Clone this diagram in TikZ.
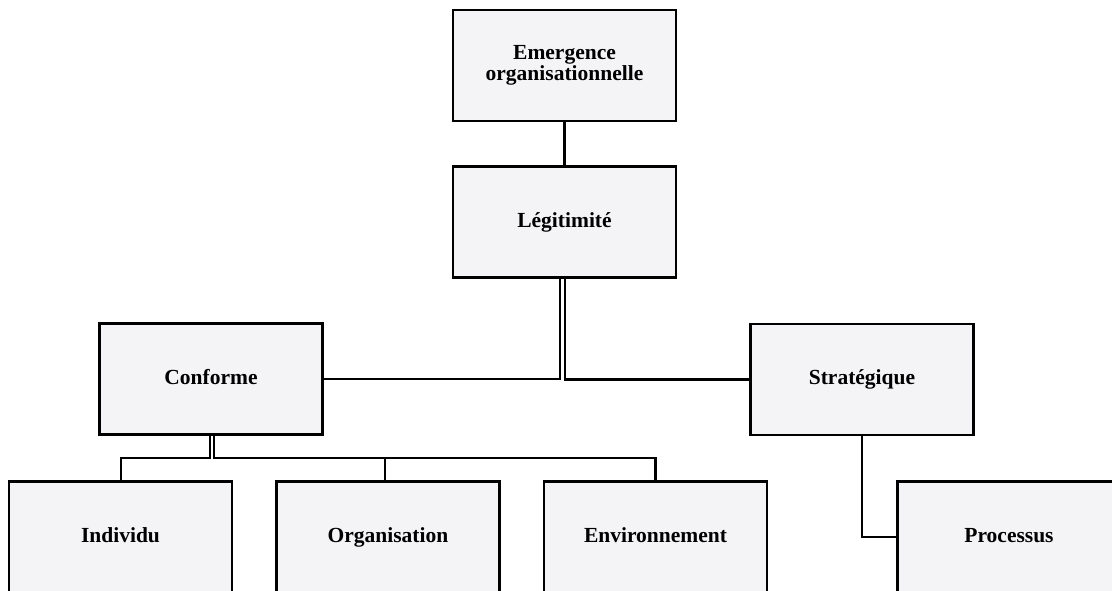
\documentclass[tikz,border=0pt]{standalone}
\usepackage{fontspec}
\setmainfont{Liberation Serif}
\definecolor{boxfill}{RGB}{244,243,246}
\begin{document}
\begin{tikzpicture}[x=1pt,y=-1pt,
  box/.style={draw=black,line width=2.6pt,fill=boxfill,minimum width=223pt,minimum height=111pt,
    inner sep=0pt,align=center,font=\fontsize{21.5}{21.5}\selectfont\bfseries},
  onebox/.style={box,text height=14.5pt,text depth=4.5pt},
  link/.style={draw=black,line width=2.2pt}]
\useasboundingbox (0,0) rectangle (1112,590);
\clip (0,0) rectangle (1112,590);
\node[box] (em) at (564.5,65.5) {Emergence\\organisationnelle};
\node[onebox] (leg) at (564.5,222) {Légitimité};
\node[onebox] (conf) at (211,379) {Conforme};
\node[onebox] (strat) at (862,379.5) {Stratégique};
\node[onebox] (ind) at (120.5,537) {Individu};
\node[onebox] (org) at (388,537) {Organisation};
\node[onebox] (env) at (655.5,537) {Environnement};
\node[onebox] (proc) at (1009,537) {Processus};
\draw[link] (em.south) -- (leg.north);
\draw[link] ([xshift=-4.5pt]leg.south) |- (conf.east);
\draw[link] ([xshift=0.5pt]leg.south) |- (strat.west);
\coordinate (cl) at (210,458);
\coordinate (cr) at (214,458);
\draw[link] (conf.south -| cl) -- (cl) -| ([xshift=0.5pt]ind.north);
\draw[link] (conf.south -| cr) -- (cr) -| ([xshift=-3pt]org.north);
\draw[link] (cr) -| (env.north);
\draw[link] (strat.south) |- (proc.west);
\end{tikzpicture}
\end{document}
